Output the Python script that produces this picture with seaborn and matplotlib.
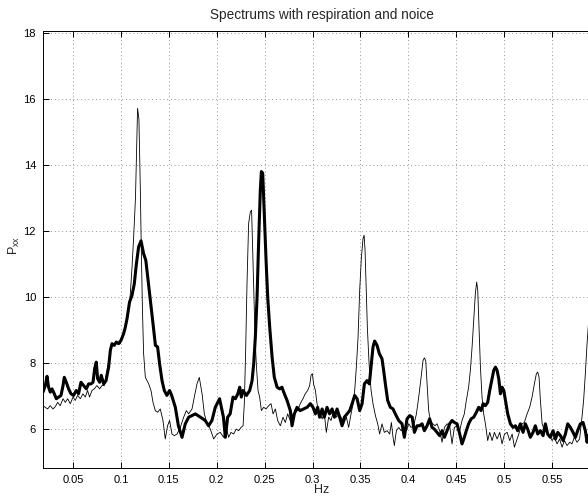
import numpy as np
import pandas as pd
import matplotlib
matplotlib.use("Agg")
import matplotlib.pyplot as plt
import seaborn as sns

# ---- data ----
thick_f = [0.0187, 0.0211, 0.0229, 0.0245, 0.0263, 0.0281, 0.0305, 0.0326, 0.035, 0.0375,
           0.0396, 0.0409, 0.043, 0.0454, 0.0479, 0.0506, 0.0534, 0.0558, 0.0583, 0.0611,
           0.0639, 0.0663, 0.0688, 0.0709, 0.0726, 0.0743, 0.0757, 0.0778, 0.0795, 0.082,
           0.0845, 0.0872, 0.089, 0.0907, 0.0931, 0.0952, 0.0976, 0.1001, 0.1028, 0.1046,
           0.1064, 0.109, 0.1116, 0.114, 0.116, 0.1185, 0.121, 0.1237, 0.126, 0.128,
           0.1307, 0.1335, 0.136, 0.1383, 0.1404, 0.1429, 0.1453, 0.148, 0.1508, 0.153,
           0.1568, 0.16, 0.1638, 0.1672, 0.1707, 0.1742, 0.1777, 0.183, 0.188, 0.1915,
           0.195, 0.1985, 0.203, 0.207, 0.209, 0.2114, 0.214, 0.217, 0.2195, 0.222,
           0.224, 0.2257, 0.2275, 0.231, 0.2344, 0.2369, 0.2386, 0.2403, 0.2421, 0.2437,
           0.2455, 0.2466, 0.248, 0.2497, 0.2515, 0.2532, 0.2553, 0.2578, 0.2601, 0.263,
           0.2657, 0.268, 0.2706, 0.2734, 0.2768, 0.2786, 0.281, 0.2838, 0.287, 0.2907,
           0.2943, 0.2977, 0.3005, 0.303, 0.3053, 0.3074, 0.31, 0.3123, 0.3151, 0.3178,
           0.3204, 0.3228, 0.3256, 0.3283, 0.3308, 0.3332, 0.336, 0.3388, 0.3413, 0.344,
           0.3465, 0.3492, 0.3517, 0.3541, 0.3569, 0.3593, 0.3614, 0.3631, 0.3648, 0.3673,
           0.3697, 0.3725, 0.3742, 0.376, 0.3784, 0.3812, 0.384, 0.3864, 0.3899, 0.3934,
           0.3958, 0.3986, 0.4014, 0.404, 0.4063, 0.4091, 0.4118, 0.4143, 0.4167, 0.4195,
           0.4222, 0.4247, 0.4271, 0.4299, 0.4327, 0.4352, 0.4376, 0.4404, 0.4431, 0.4456,
           0.448, 0.4508, 0.4536, 0.456, 0.4584, 0.4605, 0.4629, 0.4655, 0.4682, 0.471,
           0.4734, 0.4759, 0.478, 0.4804, 0.4828, 0.4849, 0.4874, 0.4891, 0.4909, 0.4926,
           0.4943, 0.4961, 0.4978, 0.4996, 0.5013, 0.5037, 0.5065, 0.5093, 0.5117, 0.5141,
           0.5169, 0.5197, 0.5221, 0.5245, 0.5273, 0.5301, 0.5325, 0.535, 0.5378, 0.5406,
           0.543, 0.5454, 0.5482, 0.551, 0.5535, 0.5559, 0.5587, 0.5615, 0.5639, 0.5663,
           0.5691, 0.5719, 0.5743, 0.5767, 0.5795, 0.5823, 0.5847, 0.5865, 0.588, 0.592]
thick_p = [7.12, 7.32, 7.6, 7.27, 7.12, 7.22, 7.07, 6.92, 6.97, 7.02,
           7.32, 7.57, 7.42, 7.22, 7.07, 7.02, 7.17, 7.07, 7.42, 7.32,
           7.22, 7.37, 7.37, 7.42, 7.83, 8.03, 7.53, 7.42, 7.63, 7.37,
           7.47, 7.88, 8.39, 8.59, 8.54, 8.64, 8.59, 8.69, 8.89, 9.09,
           9.35, 9.85, 10.06, 10.41, 10.97, 11.53, 11.71, 11.32, 11.12, 10.61,
           9.91, 9.2, 8.54, 8.49, 7.98, 7.47, 7.17, 7.02, 7.17, 7.02,
           6.66, 6.1, 5.75, 6.16, 6.36, 6.41, 6.46, 6.36, 6.26, 6.1,
           6.26, 6.66, 6.92, 6.36, 5.75, 6.36, 6.46, 6.97, 6.92, 7.07,
           7.27, 6.97, 7.17, 7.02, 7.17, 7.47, 7.98, 8.79, 10.0, 11.63,
           13.25, 13.81, 13.76, 12.44, 11.12, 10.0, 9.09, 8.18, 7.57, 7.27,
           7.22, 7.27, 7.07, 6.87, 6.56, 6.1, 6.46, 6.66, 6.56, 6.61,
           6.66, 6.77, 6.66, 6.46, 6.66, 6.36, 6.61, 6.36, 6.66, 6.46,
           6.61, 6.36, 6.61, 6.36, 6.1, 6.36, 6.46, 6.56, 6.77, 7.02,
           6.92, 6.56, 6.77, 7.37, 7.47, 7.37, 7.98, 8.49, 8.67, 8.54,
           8.29, 8.13, 7.78, 7.37, 6.87, 6.66, 6.61, 6.46, 6.26, 6.16,
           5.75, 6.31, 6.41, 6.36, 5.9, 6.1, 6.1, 6.16, 5.95, 6.1,
           6.31, 6.05, 6.0, 5.9, 5.8, 5.95, 5.75, 5.95, 6.16, 6.26,
           6.2, 6.16, 5.85, 5.55, 5.75, 5.95, 6.16, 6.31, 6.36, 6.51,
           6.66, 6.56, 6.77, 6.71, 6.81, 7.17, 7.53, 7.78, 7.88, 7.78,
           7.53, 7.07, 7.27, 7.17, 6.87, 6.46, 6.16, 6.05, 6.1, 5.95,
           6.16, 5.9, 6.16, 6.0, 5.75, 5.9, 6.1, 5.85, 5.95, 5.8,
           6.16, 5.85, 5.75, 5.95, 5.7, 5.9, 5.8, 5.65, 5.85, 6.16,
           6.05, 5.9, 5.75, 5.95, 6.16, 6.2, 5.95, 5.6, 5.8, 6.0]

thin_f = [0.0187, 0.0211, 0.0235, 0.0263, 0.0291, 0.0315, 0.034, 0.0367, 0.0396, 0.042,
          0.0444, 0.0472, 0.05, 0.0524, 0.0548, 0.0576, 0.0604, 0.0628, 0.0652, 0.0673,
          0.0698, 0.0722, 0.075, 0.0778, 0.0803, 0.0827, 0.0848, 0.0872, 0.0897, 0.0918,
          0.0942, 0.0966, 0.0994, 0.1015, 0.104, 0.1065, 0.109, 0.1116, 0.1133, 0.1152,
          0.1165, 0.1174, 0.1188, 0.1202, 0.1212, 0.1225, 0.1237, 0.1255, 0.129, 0.1314,
          0.1335, 0.1359, 0.1383, 0.1411, 0.1439, 0.1463, 0.1487, 0.1508, 0.1533, 0.1557,
          0.1586, 0.162, 0.1655, 0.1683, 0.1707, 0.1742, 0.1766, 0.1794, 0.1818, 0.1847,
          0.1871, 0.1899, 0.1933, 0.1968, 0.2003, 0.2038, 0.2072, 0.21, 0.2124, 0.2149,
          0.2176, 0.2204, 0.2228, 0.2254, 0.2275, 0.2288, 0.2302, 0.2316, 0.2333, 0.2351,
          0.2364, 0.2375, 0.2386, 0.24, 0.2413, 0.2431, 0.2448, 0.2466, 0.249, 0.2515,
          0.2542, 0.2567, 0.2588, 0.2612, 0.2636, 0.2664, 0.2692, 0.2716, 0.274, 0.2768,
          0.2796, 0.282, 0.2844, 0.2872, 0.29, 0.2924, 0.2949, 0.297, 0.2984, 0.2998,
          0.3011, 0.303, 0.3047, 0.3064, 0.3081, 0.31, 0.3123, 0.3144, 0.3168, 0.3193,
          0.322, 0.3249, 0.3273, 0.3298, 0.3325, 0.3353, 0.3377, 0.3402, 0.3423, 0.344,
          0.3457, 0.3475, 0.3492, 0.351, 0.3527, 0.3538, 0.3548, 0.3558, 0.3572, 0.359,
          0.3611, 0.3631, 0.3656, 0.368, 0.37, 0.3725, 0.3749, 0.3778, 0.3805, 0.3823,
          0.384, 0.3854, 0.3875, 0.3899, 0.3924, 0.3952, 0.398, 0.4004, 0.4028, 0.4055,
          0.4084, 0.4108, 0.4133, 0.4153, 0.4167, 0.4181, 0.4195, 0.4212, 0.423, 0.4254,
          0.4279, 0.4299, 0.4327, 0.4352, 0.4376, 0.4404, 0.4431, 0.4456, 0.448, 0.4508,
          0.4536, 0.456, 0.4584, 0.4605, 0.4629, 0.4647, 0.4665, 0.4682, 0.4699, 0.4713,
          0.4724, 0.4738, 0.4752, 0.4769, 0.4786, 0.4804, 0.4828, 0.4849, 0.4874, 0.4898,
          0.4926, 0.4954, 0.4978, 0.5003, 0.5031, 0.5058, 0.5083, 0.5107, 0.5135, 0.5162,
          0.5187, 0.521, 0.5239, 0.5266, 0.5291, 0.5315, 0.5336, 0.535, 0.5364, 0.5378,
          0.5396, 0.542, 0.5448, 0.5476, 0.55, 0.5524, 0.5552, 0.5579, 0.5604, 0.5628,
          0.5656, 0.5684, 0.5708, 0.5732, 0.576, 0.5787, 0.5812, 0.5829, 0.5847, 0.5865,
          0.5879, 0.590]
thin_p = [6.71, 6.66, 6.61, 6.71, 6.61, 6.68, 6.81, 6.71, 6.92, 6.81,
          6.92, 6.77, 6.97, 6.87, 7.02, 6.92, 7.07, 6.97, 7.17, 6.97,
          7.17, 7.22, 7.32, 7.22, 7.32, 7.32, 7.68, 8.03, 8.49, 8.54,
          8.59, 8.64, 8.59, 8.79, 9.0, 9.3, 9.75, 10.9, 11.83, 13.0,
          14.6, 15.73, 15.4, 13.4, 11.6, 9.6, 8.29, 7.57, 7.37, 7.17,
          6.81, 6.56, 6.51, 6.61, 6.26, 5.7, 6.1, 6.26, 5.85, 5.8,
          5.85, 6.05, 6.36, 6.56, 6.46, 6.61, 6.97, 7.37, 7.57, 7.07,
          6.46, 6.16, 6.0, 5.7, 5.85, 5.9, 5.75, 6.05, 5.75, 5.9,
          5.85, 6.0, 5.95, 6.05, 6.1, 6.77, 8.39, 10.41, 12.24, 12.59,
          12.64, 11.43, 10.21, 8.79, 7.98, 7.17, 6.97, 6.56, 6.66, 6.61,
          6.71, 6.77, 6.46, 6.61, 6.26, 6.1, 6.36, 6.2, 6.46, 6.26,
          6.46, 6.51, 6.56, 6.77, 6.92, 7.07, 7.17, 7.32, 7.63, 7.68,
          7.37, 7.17, 6.77, 6.51, 6.46, 6.31, 6.46, 5.9, 6.36, 6.26,
          6.56, 6.36, 6.46, 6.36, 6.16, 6.36, 6.05, 6.46, 6.77, 7.17,
          7.88, 8.79, 10.21, 11.22, 11.78, 11.88, 11.43, 10.41, 9.09, 7.98,
          7.17, 6.77, 6.41, 6.16, 5.85, 6.16, 5.9, 5.95, 5.85, 6.2,
          5.75, 5.5, 5.95, 6.05, 5.95, 6.05, 5.95, 6.16, 6.05, 6.1,
          6.46, 6.97, 7.57, 8.08, 8.16, 8.08, 7.37, 6.56, 6.26, 6.16,
          6.1, 6.16, 5.95, 5.6, 6.05, 6.16, 6.1, 5.55, 6.05, 6.1,
          5.95, 6.26, 6.46, 6.87, 7.27, 7.78, 8.49, 9.3, 10.11, 10.46,
          10.21, 9.09, 7.88, 6.97, 6.46, 6.16, 5.65, 5.9, 5.65, 5.9,
          5.7, 5.9, 5.55, 5.85, 5.9, 5.65, 5.85, 5.45, 5.7, 5.95,
          6.16, 6.2, 6.46, 6.66, 6.97, 7.37, 7.68, 7.73, 7.57, 6.87,
          6.16, 5.95, 5.9, 5.8, 5.65, 5.75, 5.55, 5.7, 5.45, 5.65,
          5.5, 5.6, 5.55, 5.75, 5.6, 5.7, 6.36, 6.87, 7.68, 8.59,
          9.2, 10.0]

x_ticks = [0.05, 0.1, 0.15, 0.2, 0.25, 0.3, 0.35, 0.4, 0.45, 0.5, 0.55]
x_tick_labels = ["0.05", "0.1", "0.15", "0.2", "0.25", "0.3", "0.35", "0.4", "0.45", "0.5", "0.55"]
y_ticks = [6, 8, 10, 12, 14, 16, 18]

title = "Spectrums with respiration and noice"
x_label = "Hz"
y_label = r"$\mathregular{P_{xx}}$"

# ---- plot ----
sns.set_style("white")
plt.rcParams["font.family"] = ["Liberation Sans", "DejaVu Sans"]
plt.rcParams["mathtext.default"] = "regular"

W, H = 588, 497
fig = plt.figure(figsize=(W / 100, H / 100), dpi=100)
left_px, right_px, top_px, bottom_px = 43, 600, 30.5, 468.3
ax = fig.add_axes([left_px / W, (H - bottom_px) / H,
                   (right_px - left_px) / W, (bottom_px - top_px) / H])

thin_df = pd.DataFrame({"f": thin_f, "p": thin_p})
thick_df = pd.DataFrame({"f": thick_f, "p": thick_p})
sns.lineplot(data=thin_df, x="f", y="p", ax=ax, color="black", linewidth=0.6,
             estimator=None, sort=False)
sns.lineplot(data=thick_df, x="f", y="p", ax=ax, color="black", linewidth=2.2,
             estimator=None, sort=False)

ax.set_xlim(0.0187, 0.6)
ax.set_ylim(4.81, 18.09)
ax.set_xticks(x_ticks)
ax.set_xticklabels(x_tick_labels)
ax.set_yticks(y_ticks)
ax.grid(True, color="0.45", linestyle=(0, (1, 3.5)), linewidth=0.6)

for s in ["left", "bottom", "top"]:
    ax.spines[s].set_visible(True)
    ax.spines[s].set_color("black")
    ax.spines[s].set_linewidth(0.7)
ax.spines["right"].set_visible(False)

ax.tick_params(direction="in", length=4, width=0.7, labelsize=8, colors="black",
               top=True, right=False, bottom=True, left=True, pad=5)

ax.set_title(title, fontsize=9.8, pad=8.5)
ax.set_xlabel(x_label, fontsize=9)
ax.set_ylabel(y_label, fontsize=9)
ax.xaxis.set_label_coords(0.5, -0.037)
ax.yaxis.set_label_coords(-0.038, 0.51)

fig.savefig("out.png", dpi=100)
